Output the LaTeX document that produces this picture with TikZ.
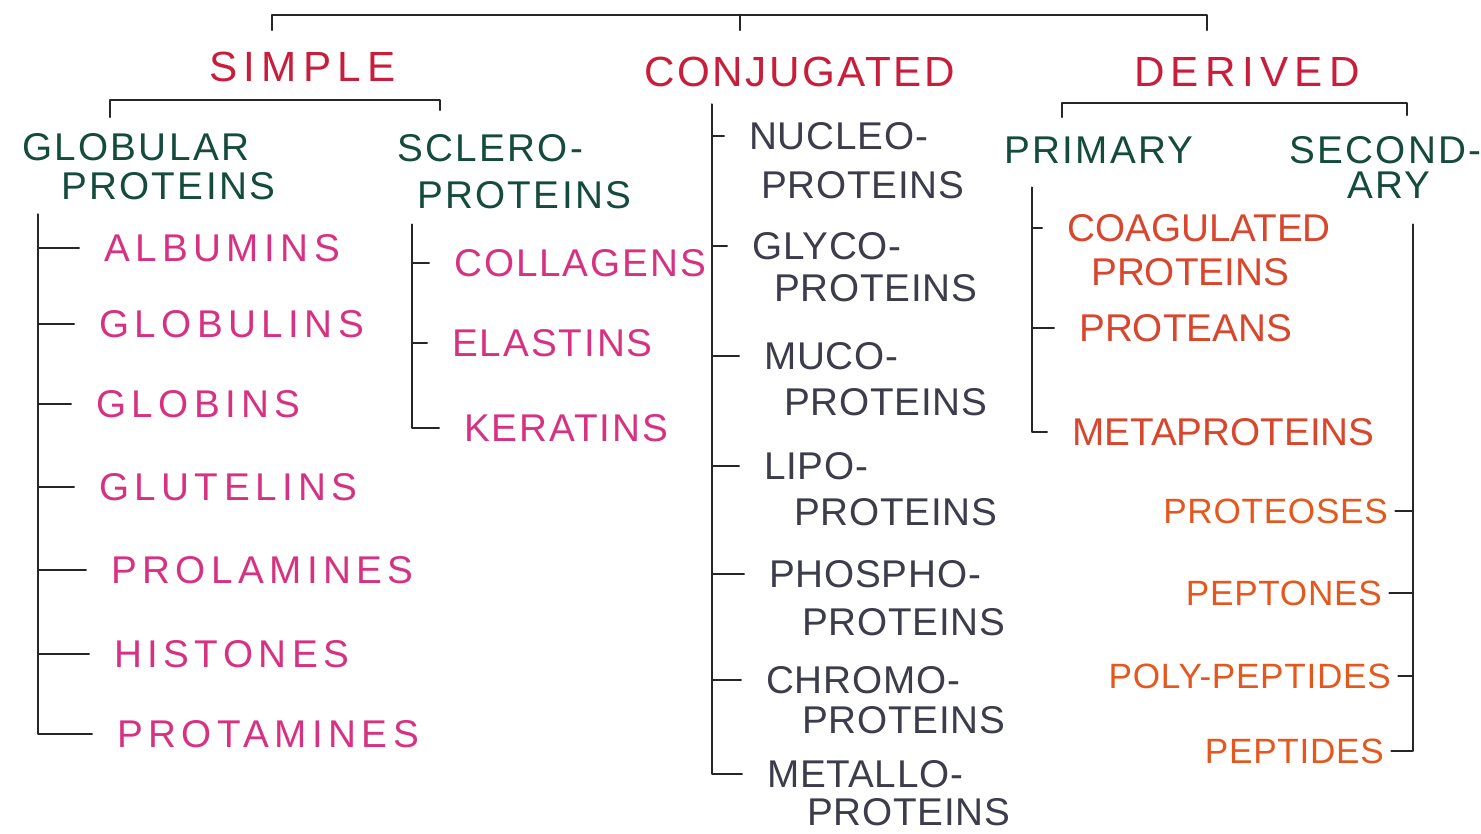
\documentclass[tikz,border=0pt]{standalone}
\usepackage{fontspec}
\setmainfont{Liberation Sans}
\usepackage{tikz}
\usetikzlibrary{arrows.meta}
\definecolor{headred}{RGB}{200,30,60}
\definecolor{subgreen}{RGB}{20,75,60}
\definecolor{simppink}{RGB}{215,50,130}
\definecolor{conjgray}{RGB}{60,60,75}
\definecolor{primred}{RGB}{215,70,45}
\definecolor{secorange}{RGB}{228,88,30}
\tikzset{
  every picture/.style={line join=round, line cap=round},
  lbl/.style={anchor=west, inner sep=1pt, text depth=0pt},
  head/.style={lbl, text=headred, font=\fontsize{12}{14}\selectfont\addfontfeature{LetterSpace=15}},
  sub/.style={lbl, text=subgreen, font=\fontsize{11}{13}\selectfont\addfontfeature{LetterSpace=6}},
  simp/.style={lbl, text=simppink, font=\fontsize{11}{13}\selectfont\addfontfeature{LetterSpace=14}},
  scl/.style={simp, font=\fontsize{11}{13}\selectfont\addfontfeature{LetterSpace=5}},
  conj/.style={lbl, text=conjgray, font=\fontsize{11}{13}\selectfont\addfontfeature{LetterSpace=2}},
  prim/.style={lbl, text=primred, font=\fontsize{11}{13}\selectfont},
  sec/.style={lbl, anchor=east, text=secorange, font=\fontsize{10}{12}\selectfont\addfontfeature{LetterSpace=2}},
  link/.style={draw=black!85, line width=0.75pt},
  tick/.style={link, shorten >=6pt},
  rtick/.style={link, shorten >=1pt},
}

\begin{document}
\begin{tikzpicture}[x=0.01cm,y=-0.01cm]
\useasboundingbox (0,0) rectangle (1481,834);
% top level
\node[head] (simple) at (205,67) {SIMPLE};
\node[head, font=\fontsize{12}{14}\selectfont\addfontfeature{LetterSpace=6}] (conj) at (640,72) {CONJUGATED};
\node[head] (deriv) at (1130,72) {DERIVED};
\coordinate (tl) at (272,30);
\coordinate (tm) at (740,30);
\coordinate (tr) at (1207,30);
\coordinate (tbar) at (740,15);
\draw[link] (tl) |- (tbar) -| (tr);
\draw[link] (tbar) -- (tm);
% simple
\node[sub] (glob) at (18,147) {GLOBULAR};
\node[sub] (glob2) at (57,186) {PROTEINS};
\node[sub] (scl) at (393,148) {SCLERO-};
\node[sub] (scl2) at (413,195) {PROTEINS};
\coordinate (sl) at (110,117);
\coordinate (sr) at (440,110);
\coordinate (sbar) at (275,100);
\draw[link] (sl) |- (sbar) -| (sr);
\node[simp] (alb) at (100,248) {ALBUMINS};
\node[simp] (globu) at (95,324) {GLOBULINS};
\node[simp] (globi) at (92,404) {GLOBINS};
\node[simp] (glut) at (95,487) {GLUTELINS};
\node[simp] (prol) at (107,570) {PROLAMINES};
\node[simp] (hist) at (110,654) {HISTONES};
\node[simp] (prot) at (113,734) {PROTAMINES};
\coordinate (gtop) at (38,215);
\foreach \n in {alb,globu,globi,glut,prol,hist,prot}
  \draw[tick] (gtop) |- (\n);
\node[scl] (coll) at (450,263) {COLLAGENS};
\node[scl] (elas) at (448,343) {ELASTINS};
\node[scl] (kera) at (460,428) {KERATINS};
\coordinate (stop) at (412,225);
\foreach \n in {coll,elas,kera}
  \draw[tick] (stop) |- (\n);
% conjugated
\node[conj] (nuc) at (745,136) {NUCLEO-};
\node[conj] (nuc2) at (757,185) {PROTEINS};
\node[conj] (gly) at (748,246) {GLYCO-};
\node[conj] (gly2) at (770,288) {PROTEINS};
\node[conj] (muc) at (760,356) {MUCO-};
\node[conj] (muc2) at (780,402) {PROTEINS};
\node[conj] (lip) at (760,466) {LIPO-};
\node[conj] (lip2) at (790,512) {PROTEINS};
\node[conj] (pho) at (765,574) {PHOSPHO-};
\node[conj] (pho2) at (798,622) {PROTEINS};
\node[conj] (chr) at (762,680) {CHROMO-};
\node[conj] (chr2) at (798,720) {PROTEINS};
\node[conj] (met) at (763,774) {METALLO-};
\node[conj] (met2) at (803,812) {PROTEINS};
\coordinate (ctop) at (712,105);
\foreach \n in {nuc,gly,muc,lip,pho,chr,met}
  \draw[tick] (ctop) |- (\n);
% derived
\node[sub] (prim) at (1000,150) {PRIMARY};
\node[sub] (sec) at (1285,150) {SECOND-};
\node[sub] (sec2) at (1343,185) {ARY};
\coordinate (dl) at (1062,117);
\coordinate (dr) at (1407,115);
\coordinate (dbar) at (1235,103);
\draw[link] (dl) |- (dbar) -| (dr);
\node[prim] (coag) at (1063,228) {COAGULATED};
\node[prim] (coag2) at (1087,272) {PROTEINS};
\node[prim] (ptns) at (1075,328) {PROTEANS};
\node[prim] (meta) at (1068,432) {METAPROTEINS};
\coordinate (ptop) at (1032,188);
\foreach \n in {coag,ptns,meta}
  \draw[tick] (ptop) |- (\n);
\node[sec] (pros) at (1392,511) {PROTEOSES};
\node[sec] (pept) at (1386,593) {PEPTONES};
\node[sec] (poly) at (1395,676) {POLY-PEPTIDES};
\node[sec] (pepd) at (1388,751) {PEPTIDES};
\coordinate (qtop) at (1413,225);
\foreach \n in {pros,pept,poly,pepd}
  \draw[rtick] (qtop) |- (\n);
\end{tikzpicture}
\end{document}
